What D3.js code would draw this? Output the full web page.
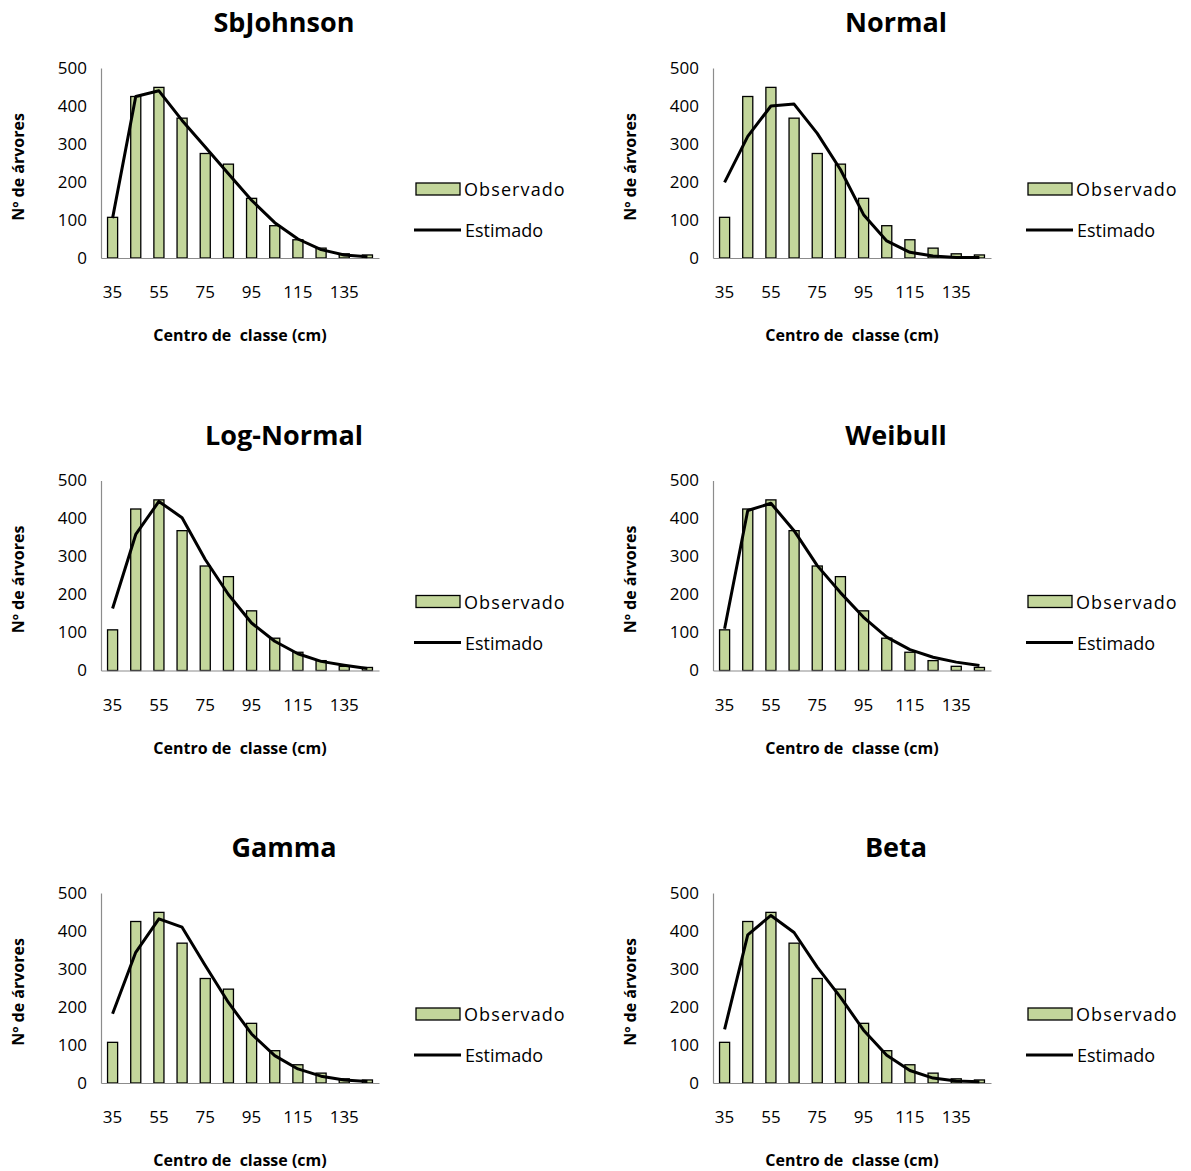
<!DOCTYPE html>
<html>
<head>
<meta charset="utf-8">
<script src="https://cdn.jsdelivr.net/npm/d3@7"></script>
<style>
  body { margin: 0; background: #fff; }
  svg { display: block; font-family: "Open Sans", "Noto Sans", sans-serif; }
</style>
</head>
<body>
<svg id="chart" width="1191" height="1171"></svg>
<script>
// class centres (cm) and the labels Excel shows on the axis
var categories = [35, 45, 55, 65, 75, 85, 95, 105, 115, 125, 135, 145];
var tickLabels = [35, 55, 75, 95, 115, 135];
var yTicks = [0, 100, 200, 300, 400, 500];

// observed tree counts (same in every panel)
var observed = [107, 425, 449, 368, 275, 247, 157, 85, 48, 26, 11, 8];

// estimated counts for each distribution
var estSbJohnson = [105, 425, 440, 362, 292, 222, 152, 93, 50, 22, 8, 3];
var estNormal    = [199, 320, 400, 405, 328, 233, 114, 45, 15, 5, 1, 1];
var estLogNormal = [163, 358, 445, 402, 292, 200, 125, 77, 44, 24, 14, 5];
var estWeibull   = [110, 421, 440, 368, 276, 205, 140, 88, 55, 35, 22, 13];
var estGamma     = [182, 344, 432, 410, 309, 212, 129, 72, 37, 18, 8, 4];
var estBeta      = [141, 390, 441, 396, 305, 226, 139, 73, 33, 13, 5, 3];

var titles = ['SbJohnson', 'Normal', 'Log-Normal', 'Weibull', 'Gamma', 'Beta'];
var estimates = [estSbJohnson, estNormal, estLogNormal, estWeibull, estGamma, estBeta];

var svg = d3.select('#chart');

var colStep = 612, rowStep = 412.5;

titles.forEach(function(title, i) {
  var col = i % 2, row = Math.floor(i / 2);
  var g = svg.append('g')
      .attr('transform', 'translate(' + (col * colStep) + ',' + (row * rowStep) + ')');

  var x = d3.scaleBand().domain(categories).range([101, 379]).padding(0);
  var y = d3.scaleLinear().domain([0, 500]).range([258, 68]);
  var barW = x.bandwidth() / 2.3;

  // title
  g.append('text')
      .attr('x', 284).attr('y', 32)
      .attr('text-anchor', 'middle')
      .style('font-size', '27px').style('font-weight', 'bold')
      .text(title);

  // bars
  g.selectAll('rect.bar')
      .data(observed)
      .enter().append('rect')
      .attr('class', 'bar')
      .attr('x', function(d, j) { return x(categories[j]) + (x.bandwidth() - barW) / 2; })
      .attr('y', function(d) { return y(d); })
      .attr('width', barW)
      .attr('height', function(d) { return y(0) - y(d); })
      .attr('fill', '#c3d69b')
      .attr('stroke', '#000')
      .attr('stroke-width', 1.3);

  // axes
  var xAxis = d3.axisBottom(x).tickValues(tickLabels).tickSize(0).tickPadding(28);
  var gx = g.append('g').attr('transform', 'translate(0,' + y(0) + ')').call(xAxis);
  var gy = g.append('g').attr('transform', 'translate(101,0)')
      .call(d3.axisLeft(y).tickValues(yTicks).tickSize(0).tickPadding(14));
  [gx, gy].forEach(function(a) {
    a.select('.domain').attr('stroke', '#8c8c8c').attr('stroke-width', 1.2);
    a.selectAll('text').style('font-size', '17px').attr('fill', '#000')
        .style('font-family', '"Open Sans", "Noto Sans", sans-serif');
  });

  // estimated line
  var line = d3.line()
      .x(function(d, j) { return x(categories[j]) + x.bandwidth() / 2; })
      .y(function(d) { return y(d); });
  g.append('path')
      .datum(estimates[i])
      .attr('d', line)
      .attr('fill', 'none')
      .attr('stroke', '#000')
      .attr('stroke-width', 3)
      .attr('stroke-linejoin', 'round');

  // axis titles
  g.append('text')
      .attr('x', 240).attr('y', 341)
      .attr('text-anchor', 'middle')
      .style('font-size', '16px').style('font-weight', 'bold')
      .text('Centro de\u00a0 classe (cm)');
  g.append('text')
      .attr('transform', 'translate(24,167) rotate(-90)')
      .attr('text-anchor', 'middle')
      .style('font-size', '16px').style('font-weight', 'bold')
      .text('Nº de árvores');

  // legend
  g.append('rect')
      .attr('x', 416).attr('y', 183).attr('width', 44).attr('height', 12)
      .attr('fill', '#c3d69b').attr('stroke', '#000').attr('stroke-width', 1.3);
  g.append('text')
      .attr('x', 464).attr('y', 196)
      .style('font-size', '18px').style('letter-spacing', '1.1px')
      .text('Observado');
  g.append('line')
      .attr('x1', 414).attr('x2', 461).attr('y1', 230).attr('y2', 230)
      .attr('stroke', '#000').attr('stroke-width', 3);
  g.append('text')
      .attr('x', 465).attr('y', 237)
      .style('font-size', '18px')
      .text('Estimado');
});
</script>
</body>
</html>
